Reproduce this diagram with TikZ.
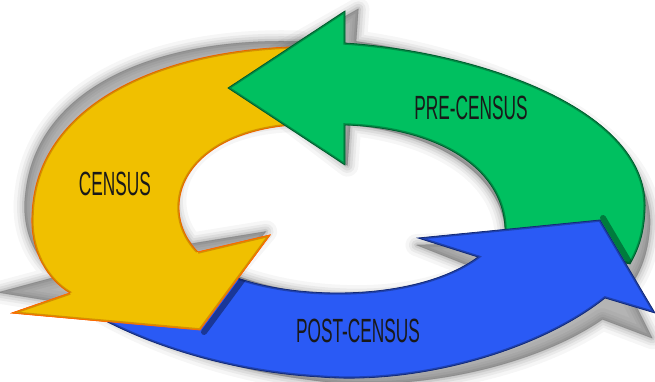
\documentclass[tikz,border=0pt]{standalone}
\usepackage{fontspec}
\setmainfont{Liberation Sans}
\usepackage{graphicx}
\usepackage{tikz}

\definecolor{censusyellow}{RGB}{240,192,0}
\definecolor{precensusgreen}{RGB}{0,192,96}
\definecolor{postcensusblue}{RGB}{42,90,245}

% outlines of the three curved arrows (pixel units, y downwards)
\newcommand\censusarrow{(290,47) .. controls (150,52) and (35,110) .. (32,215) .. controls (30,252) and (48,280) .. (70,293) -- (12,313) -- (200,330) -- (270,235) -- (198,252) .. controls (168,222) and (170,168) .. (230,140) .. controls (250,131) and (270,127) .. (292,125) -- cycle}
\newcommand\censushead{(70,293) -- (12,313) -- (200,330) -- (270,235) -- (198,252)}
\newcommand\precensusarrow{(228,88) -- (345,11) -- (345,43) .. controls (480,52) and (650,110) .. (645,210) .. controls (644,235) and (638,250) .. (630,264) -- (505,234) .. controls (507,170) and (440,128) .. (345,125) -- (345,165) -- cycle}
\newcommand\postcensusarrow{(600,220) -- (655,313) -- (605,298) .. controls (540,350) and (420,385) .. (320,377) .. controls (230,372) and (150,345) .. (100,318) -- (232,276) .. controls (300,302) and (420,300) .. (478,257) -- (418,238) -- cycle}

\begin{document}
\begin{tikzpicture}[
    x=1pt, y=-1pt,
    softshadow/.style={fill=black!70, draw=black!70, line join=round},
    arrowfill/.style={line width=0.8pt, line join=miter},
    rim/.style={line width=3.5pt, opacity=0.45},
    castedge/.style={line width=6pt, opacity=0.55, line cap=round},
    phase/.style={font=\fontsize{32}{32}\selectfont, text=black!90, inner sep=0pt}
]
    \useasboundingbox (0,0) rectangle (655,382);

    % Shadows
    \foreach \w/\o in {22/0.05, 15/0.07, 10/0.09, 5/0.12, 1/0.18} {
        \begin{scope}[opacity=\o, rotate around={-4:(330,195)}, scale around={1.02:(330,195)}]
            \filldraw[softshadow, line width=\w pt] \censusarrow;
            \filldraw[softshadow, line width=\w pt] \precensusarrow;
            \filldraw[softshadow, line width=\w pt] \postcensusarrow;
        \end{scope}
    }

    % Census
    \filldraw[arrowfill, fill=censusyellow, draw=orange!80!red] \censusarrow;
    \begin{scope}
        \clip \censusarrow;
        \draw[rim, draw=orange!70!black] \censusarrow;
    \end{scope}

    % Pre-census
    \filldraw[arrowfill, fill=precensusgreen, draw=precensusgreen!50!black] \precensusarrow;
    \begin{scope}
        \clip \precensusarrow;
        \draw[rim, draw=precensusgreen!40!black] \precensusarrow;
        \draw[castedge, draw=precensusgreen!35!black] (603,218) -- (658,311);
    \end{scope}

    % Post-census
    \filldraw[arrowfill, fill=postcensusblue, draw=postcensusblue!50!black] \postcensusarrow;
    \begin{scope}
        \clip \postcensusarrow;
        \draw[rim, draw=postcensusblue!40!black] \postcensusarrow;
        \draw[castedge, draw=postcensusblue!30!black] (204,332) -- (274,237);
    \end{scope}

    % census head lies over the post-census tail
    \fill[censusyellow] \censushead -- cycle;
    \begin{scope}
        \clip \censushead -- cycle;
        \draw[rim, draw=orange!70!black] \censushead;
    \end{scope}
    \draw[arrowfill, draw=orange!80!red] \censushead;

    % Labels
    \node[phase] (cen) at (115,184) {\scalebox{0.54}[1.05]{CENSUS}};
    \node[phase] (pre) at (471,108) {\scalebox{0.54}[1.05]{PRE-CENSUS}};
    \node[phase] (post) at (358,331) {\scalebox{0.54}[1.05]{POST-CENSUS}};

\end{tikzpicture}
\end{document}
